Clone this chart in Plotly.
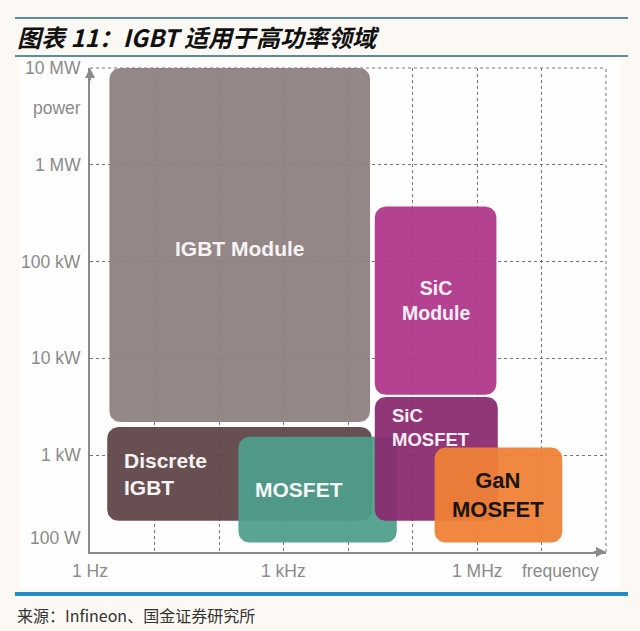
import numpy as np
import plotly.graph_objects as go

# ---------------- data ----------------
regions = ["IGBT Module", "Discrete IGBT", "MOSFET", "SiC Module", "SiC MOSFET", "GaN MOSFET"]
region_text = ["IGBT Module", "Discrete<br>IGBT", "MOSFET", "SiC<br>Module", "SiC<br>MOSFET", "GaN<br>MOSFET"]
freq_min_hz = [2.0, 1.85, 200, 2.6e4, 2.6e4, 2.2e5]
freq_max_hz = [2.2e4, 2.35e4, 5.7e4, 2.0e6, 2.1e6, 2.1e7]
power_min_w = [2.2e3, 2.1e2, 1.25e2, 4.2e3, 2.1e2, 1.25e2]
power_max_w = [1.0e7, 1.95e3, 1.55e3, 3.7e5, 4.0e3, 1.2e3]

power_tick_vals = [1e7, 1e6, 1e5, 1e4, 1e3, 1e2]
power_tick_text = ["10 MW", "1 MW", "100 kW", "10 kW", "1 kW", "100 W"]
freq_tick_vals = [1e0, 1e1, 1e2, 1e3, 1e4, 1e5, 1e6, 1e7, 1e8]
freq_label_vals = [1e0, 1e3, 1e6]
freq_label_text = ["1 Hz", "1 kHz", "1 MHz"]
power_axis_title_at = 3.9e6
freq_axis_title_at = 2.0e7

title_text = "图表 11：IGBT 适用于高功率领域"
source_text = "来源：Infineon、国金证券研究所"

# ---------------- styles ----------------
W, H = 640, 631
M = dict(l=90, r=34, t=68, b=79)
XR = [0, 8]
YR = [2, 7]
px_x = (W - M["l"] - M["r"]) / (XR[1] - XR[0])
px_y = (H - M["t"] - M["b"]) / (YR[1] - YR[0])

fill_colors = ["#8D8081", "#5E4447", "#4F9E8B", "#AF368A", "#8A2A6E", "#EF8136"]
text_colors = ["#F7F3F3", "#F7F3F3", "#F4F7F6", "#FBEFF7", "#F8EEF5", "#1B1410"]
text_sizes = [21, 21, 21, 19.5, 18.5, 22]
label_style = ["center", "left", "center", "center", "lefttop", "center"]
label_shift = [(0, -3), (15, 0), (-19, 0), (0, 0), (15, -6), (0, 0)]
FONT = "Liberation Sans, Arial, sans-serif"
GRAY = "#8A8A8A"
TICKSIZE = 17.5


def rounded_box(x0, x1, y0, y1, r_px):
    lx0, lx1, ly0, ly1 = np.log10(x0), np.log10(x1), np.log10(y0), np.log10(y1)
    rx, ry = r_px / px_x, r_px / px_y
    corners = [(lx1 - rx, ly1 - ry, 0), (lx0 + rx, ly1 - ry, 90),
               (lx0 + rx, ly0 + ry, 180), (lx1 - rx, ly0 + ry, 270)]
    xs, ys = [], []
    for cx, cy, a0 in corners:
        for a in np.linspace(a0, a0 + 90, 9):
            t = np.deg2rad(a)
            xs.append(10 ** (cx + rx * np.cos(t)))
            ys.append(10 ** (cy + ry * np.sin(t)))
    xs.append(xs[0]); ys.append(ys[0])
    return xs, ys


pw = W - M["l"] - M["r"]
ph = H - M["t"] - M["b"]
def px2paper_x(px):
    return (px - M["l"]) / pw
def px2paper_y(py):
    return (H - M["b"] - py) / ph


fig = go.Figure()

# white chart card behind the plot
fig.add_shape(type="rect", xref="paper", yref="paper",
              x0=px2paper_x(20), x1=px2paper_x(620), y0=px2paper_y(588), y1=px2paper_y(58),
              fillcolor="#FEFEFE", line_width=0, layer="below")

# dotted top and right borders of the grid
fig.add_shape(type="line", xref="paper", yref="paper", x0=0, x1=1, y0=1, y1=1,
              line=dict(color="#777777", width=1, dash="dot"), layer="below")
fig.add_shape(type="line", xref="paper", yref="paper", x0=1, x1=1, y0=0, y1=1,
              line=dict(color="#777777", width=1, dash="dot"), layer="below")

for i, name in enumerate(regions):
    xs, ys = rounded_box(freq_min_hz[i], freq_max_hz[i], power_min_w[i], power_max_w[i], 11)
    fig.add_trace(go.Scatter(x=xs, y=ys, mode="lines", fill="toself",
                             fillcolor=fill_colors[i], line=dict(width=0),
                             opacity=0.94, name=name, hoverinfo="skip",
                             showlegend=False))
    lxc = (np.log10(freq_min_hz[i]) + np.log10(freq_max_hz[i])) / 2
    lyc = (np.log10(power_min_w[i]) + np.log10(power_max_w[i])) / 2
    mode = label_style[i]
    xs_, ys_ = label_shift[i]
    ann = dict(text="<b>%s</b>" % region_text[i], showarrow=False, xref="x", yref="y",
               font=dict(family=FONT, size=text_sizes[i], color=text_colors[i]),
               xshift=xs_, yshift=ys_)
    if mode == "center":
        ann.update(x=lxc, y=lyc, xanchor="center", yanchor="middle", align="center")
    elif mode == "left":
        ann.update(x=np.log10(freq_min_hz[i]), y=lyc, xanchor="left", yanchor="middle", align="left")
    else:
        ann.update(x=np.log10(freq_min_hz[i]), y=np.log10(power_max_w[i]),
                   xanchor="left", yanchor="top", align="left")
    fig.add_annotation(**ann)

# y tick labels
for v, t in zip(power_tick_vals, power_tick_text):
    fig.add_annotation(x=0, xref="paper", y=np.log10(v), yref="y", text=t, showarrow=False,
                       xanchor="right", yanchor="middle", xshift=-7,
                       yshift=14 if v == power_tick_vals[-1] else 0,
                       font=dict(family=FONT, size=TICKSIZE, color=GRAY))
fig.add_annotation(x=0, xref="paper", y=np.log10(power_axis_title_at), yref="y", text="power",
                   showarrow=False, xanchor="right", yanchor="middle", xshift=-7,
                   font=dict(family=FONT, size=TICKSIZE, color=GRAY))
# x tick labels
for v, t in zip(freq_label_vals, freq_label_text):
    fig.add_annotation(x=np.log10(v), xref="x", y=0, yref="paper", text=t, showarrow=False,
                       xanchor="center", yanchor="top", yshift=-7,
                       font=dict(family=FONT, size=TICKSIZE, color=GRAY))
fig.add_annotation(x=np.log10(freq_axis_title_at), xref="x", y=0, yref="paper", text="frequency",
                   showarrow=False, xanchor="center", yanchor="top", yshift=-7,
                   font=dict(family=FONT, size=TICKSIZE, color=GRAY))

# axis arrows
fig.add_annotation(x=XR[0], y=YR[1], xref="x", yref="y", ax=0, ay=14, text="", showarrow=True,
                   arrowhead=2, arrowsize=1, arrowwidth=2, arrowcolor=GRAY)
fig.add_annotation(x=XR[1], y=YR[0], xref="x", yref="y", ax=-14, ay=0, text="", showarrow=True,
                   arrowhead=2, arrowsize=1, arrowwidth=2, arrowcolor=GRAY)

# header / footer decorations
for yy, col, wd in [(18, "#5E8C97", 2), (56, "#5E8C97", 2), (594, "#1F8BC8", 4)]:
    fig.add_shape(type="line", xref="paper", yref="paper",
                  x0=px2paper_x(15), x1=px2paper_x(628), y0=px2paper_y(yy), y1=px2paper_y(yy),
                  line=dict(color=col, width=wd))

fig.add_annotation(xref="paper", yref="paper", x=px2paper_x(15), y=px2paper_y(37), text=title_text,
                   showarrow=False, xanchor="left", yanchor="middle",
                   font=dict(family="Noto Sans CJK SC", size=24, color="#111111",
                             weight="bold", style="italic"))
fig.add_annotation(xref="paper", yref="paper", x=px2paper_x(15), y=px2paper_y(615), text=source_text,
                   showarrow=False, xanchor="left", yanchor="middle",
                   font=dict(family="Noto Sans CJK SC", size=16, color="#333333"))

fig.update_xaxes(type="log", range=XR, tickvals=freq_tick_vals, showticklabels=False,
                 showgrid=True, gridcolor="#777777", griddash="dot", gridwidth=1,
                 showline=True, linecolor=GRAY, linewidth=2, zeroline=False, ticks="")
fig.update_yaxes(type="log", range=YR, tickvals=power_tick_vals, showticklabels=False,
                 showgrid=True, gridcolor="#777777", griddash="dot", gridwidth=1,
                 showline=True, linecolor=GRAY, linewidth=2, zeroline=False, ticks="")

fig.update_layout(width=W, height=H, margin=M, paper_bgcolor="#FCF8F3", plot_bgcolor="rgba(0,0,0,0)",
                  showlegend=False)

fig.write_html("out.html", config={"displayModeBar": False},
               post_script="document.body.style.margin='0';document.body.style.overflow='hidden';")
